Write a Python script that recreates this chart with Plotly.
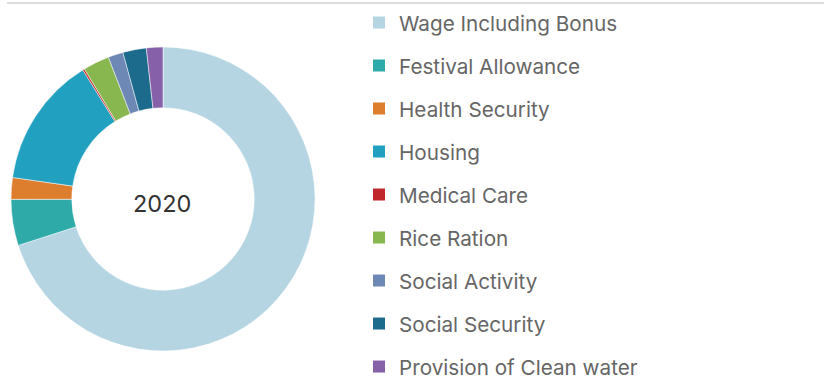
import plotly.graph_objects as go

categories = [
    "Wage Including Bonus", "Festival Allowance", "Health Security", "Housing",
    "Medical Care", "Rice Ration", "Social Activity", "Social Security",
    "Provision of Clean water",
]
shares = [70.1, 4.9, 2.3, 13.9, 0.2, 2.8, 1.6, 2.5, 1.75]
colors = [
    "#b4d5e1", "#2eaaa9", "#dd7d2e", "#22a0bf", "#c0272d",
    "#88b74f", "#6e88b6", "#1c6a8c", "#8661a9",
]
year_label = "2020"

W, H = 824, 378
cx, cy, r = 163, 199, 152

fig = go.Figure()
fig.add_trace(go.Pie(
    labels=categories, values=shares, hole=0.6, sort=False,
    direction="clockwise", rotation=0, textinfo="none",
    marker=dict(colors=colors, line=dict(color="white", width=0.5)),
    showlegend=False, hoverinfo="label+percent",
    domain=dict(x=[(cx - r) / W, (cx + r) / W],
                y=[(H - cy - r) / H, (H - cy + r) / H]),
))

# legend entries, one group each so the group gap spaces them out
for name, col in zip(categories, colors):
    fig.add_trace(go.Scatter(
        x=[None], y=[None], mode="markers", name=name, legendgroup=name,
        marker=dict(symbol="square", size=12, color=col),
    ))

fig.add_annotation(x=(cx - 1) / W, y=1 - 203 / H, xref="paper", yref="paper",
                   xanchor="center", yanchor="middle",
                   text=year_label, showarrow=False,
                   font=dict(family="Inter, sans-serif", size=23.5, color="#333333"))

fig.add_shape(type="line", xref="paper", yref="paper",
              x0=7 / W, x1=1, y0=1 - 3 / H, y1=1 - 3 / H,
              line=dict(color="#d2d2d2", width=1.5))

fig.update_layout(
    width=W, height=H, margin=dict(l=0, r=0, t=0, b=0, autoexpand=False),
    paper_bgcolor="white", plot_bgcolor="white",
    font=dict(family="Inter, sans-serif"),
    xaxis=dict(visible=False), yaxis=dict(visible=False),
    legend=dict(x=359 / W, xanchor="left", y=1 - 2.5 / H, yanchor="top",
                tracegroupgap=13.1, maxheight=600,
                font=dict(size=20.7, color="#666666"),
                itemsizing="constant", bgcolor="rgba(0,0,0,0)"),
)

fig.write_html("out.html")
